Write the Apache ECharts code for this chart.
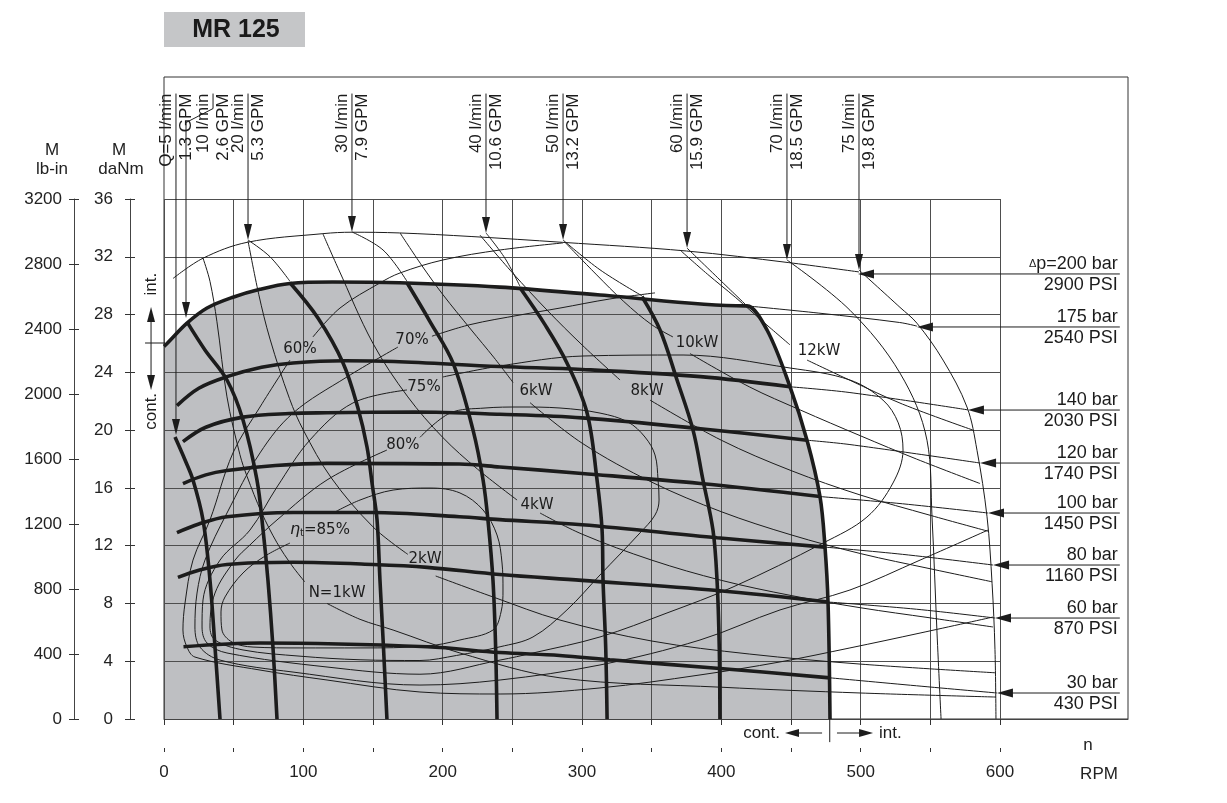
<!DOCTYPE html>
<html><head><meta charset="utf-8">
<script src="https://cdn.jsdelivr.net/npm/echarts@6/dist/echarts.min.js"></script>
<style>html,body{margin:0;padding:0;background:#fff}#c{width:1227px;height:803px}</style>
</head><body><div id="c"></div>
<script>
// ================= DATA (rpm, torque daNm) =================
const rpmTicks  = [0,50,100,150,200,250,300,350,400,450,500,550,600];
const rpmLabels = [0,100,200,300,400,500,600];

// pressure lines
const p200      = [[6.5,30.5],[28,31.9],[59.6,33.0],[114,33.6],[135,33.7],[169,33.65],[221,33.4],[286,33.0],[375,32.4],[448,31.6],[498.8,30.95]];
const p175cont  = [[0,25.8],[2.2,26.0],[16.5,27.4],[30.9,28.45],[49.5,29.2],[68.9,29.75],[90.4,30.15],[121,30.25],[169,30.2],[241,29.9],[313,29.35],[417,28.6]];
const q60cont   = [[418.4,28.6],[432.8,26.93],[449.3,23.0],[461.5,19.3],[470.8,15.4],[474.4,11.9],[476.6,8.0],[478,0]];
const p175thin  = [[418.4,28.6],[470,28.1],[528,27.45],[540.4,27.2]];
const p140      = [[9.3,21.7],[25,22.9],[45.2,23.7],[70,24.35],[92.6,24.65],[130,24.8],[165,24.75],[241,24.4],[300,24.2],[385,23.7],[449.3,23.0]];
const p140thin  = [[449.3,23.0],[492.3,22.6],[577,21.4]];
const p120      = [[13.6,19.2],[30,20.2],[56.7,20.9],[90,21.15],[117,21.2],[180,21.25],[241,21.1],[300,20.85],[385,20.1],[461.5,19.3]];
const p120thin  = [[461.5,19.3],[492.3,19.0],[585.7,17.72]];
const p100      = [[13.6,16.3],[30,16.9],[45.2,17.2],[80,17.55],[117,17.7],[212,17.65],[241,17.45],[300,17.0],[385,16.3],[470.8,15.4]];
const p100thin  = [[470.8,15.4],[530,14.9],[591.4,14.26]];
const p80       = [[9.3,12.9],[25,13.5],[45.2,14.0],[92.6,14.3],[150,14.3],[212,14.0],[241,13.8],[300,13.45],[397,12.55],[474.4,11.9]];
const p80thin   = [[474.4,11.9],[530,11.4],[595,10.66]];
const p60       = [[10,9.8],[25,10.3],[45.2,10.7],[92.6,10.85],[150,10.7],[189,10.5],[241,10.0],[300,9.6],[397,8.9],[476.6,8.1]];
const p60thin   = [[476.6,8.1],[540,7.6],[596.4,6.99]];
const p30       = [[14,5.0],[69,5.26],[189,5.0],[241,4.6],[284,4.4],[320,4.1],[399,3.5],[478,2.85]];
const p30thin   = [[478,2.85],[540,2.3],[597.8,1.8]];

// flow lines
const q5        = [[7.9,19.52],[15.1,17.93],[20.8,16.55],[28,13.78],[33,9.62],[36.6,4.98],[40.2,0]];
const q10       = [[16.5,27.49],[29.4,25.55],[45.2,23.47],[56.7,20.7],[66.7,16.55],[71.1,13.08],[74.6,9.62],[78.2,4.98],[81.1,0]];
const q20thin   = [[60.3,33.16],[76.1,32.0],[90.4,30.3]];
const q20       = [[90.4,30.2],[110.5,27.76],[128.5,24.65],[139,21.6],[145.7,18.83],[149.5,16.2],[152.9,13.78],[155,9.62],[157.5,5],[160,0]];
const q30thin   = [[134.9,33.72],[157.2,32.47],[174.4,30.3]];
const q30       = [[174.4,30.2],[191,27.5],[207.4,24.65],[221.8,20.0],[229,16.55],[232.5,13.78],[236.1,9.62],[238,5],[239,0]];
const q40thin   = [[231.1,33.65],[244.7,31.9],[255.5,29.95]];
const q40       = [[255.5,29.85],[273.4,27.3],[289.2,24.65],[303.6,21.2],[310.8,16.55],[314.4,13.1],[315.1,9.6],[317,5],[318,0]];
const q50thin   = [[286.4,33.16],[312.9,31.1],[343,29.3]];
const q50       = [[343,29.25],[356,26.93],[368.2,23.47],[379.7,20.0],[386.8,16.55],[394,13.08],[396.9,9.62],[398.5,5],[399,0]];
const q60thin   = [[375.4,32.6],[399,30.4],[418.4,28.6]];
const q70       = [[447.1,31.78],[492.3,28.3],[528.2,23.95],[547.6,19.3],[551.2,14.0],[554.8,5.95],[557.7,0]];
const q75       = [[498.8,31.08],[528.2,28.5],[540.4,27.4],[559.1,24.85],[576.3,21.6],[583.5,18.6],[590.7,14.0],[594.3,9.4],[596.4,4.8],[597.1,0]];

// efficiency contours
const eff85  = [[122.7,14.33],[140.7,15.16],[164.4,15.85],[190.9,15.99],[212.4,15.65],[229,14.47],[239,12.74],[242.6,10.8],[243.3,8.93],[241.9,7.41],[236.1,6.16],[212.4,5.47],[188.8,5.05],[140.7,4.92],[97.6,4.92],[63.9,4.98],[48.8,5.33],[41.6,6.16],[40.9,7.41],[43.8,8.45],[56.7,10.11],[72.5,11.28],[90.4,12.18]];
const eff80  = [[183.7,19.5],[205.3,21.18],[230.4,21.53],[255.5,21.6],[284.2,21.53],[312.9,21.18],[333,20.56],[345.2,19.52],[352.4,18.28],[354.6,16.55],[355.3,15.16],[352.4,14.12],[341.6,12.88],[312.9,9.97],[289.2,7.55],[264.8,5.68],[241.2,5.0],[210,4.4],[183.7,4.05],[140.7,4.1],[97.6,4.35],[56.7,4.78],[36.6,5.47],[33,6.37],[36.6,8.72],[51,11.0],[61.7,12.05],[81.1,13.78],[117,16.55],[160,18.62]];
const eff75  = [[200.2,23.68],[241.2,24.44],[300.7,25.13],[372.5,25.2],[449.3,24.3],[492.3,23.47],[516,22.08],[527,20.5],[530.4,18.62],[523.2,16.34],[504.5,13.98],[473,12.18],[408.4,9.14],[361,7.34],[312.9,5.68],[264.8,4.57],[241.2,4.08],[183.7,3.1],[117,3.6],[45.2,4.57],[30.9,5.26],[27.3,6.37],[28,8.24],[40.2,11.0],[61.7,13.08],[81.1,16.06],[104.8,19.32],[135.6,21.88],[174.4,22.78]];
const eff70a = [[192.3,26.5],[219.6,27.3],[255.5,27.97],[284.2,28.45],[320,29.08],[352.4,29.5]];
const eff70b = [[167.9,25.75],[131.3,23.68],[92.6,21.18],[68.9,18.42],[45.2,14.26],[29.4,11.0],[23.7,8.72],[22.2,6.37],[25.8,4.98],[40.2,4.08],[92.6,3.25],[183.7,2.35],[241.2,2.7],[312.9,3.74],[384.7,5.47],[442.1,7.55],[492.3,8.93],[542.6,11.0],[591.4,13.08]];
const eff60a = [[106.9,26.45],[126.3,28.45],[155,30.19],[169.4,30.88],[200.2,31.78],[241.2,32.47],[286.4,32.96]];
const eff60b = [[90.4,24.85],[68.9,21.6],[49.5,18.42],[33,13.78],[20.8,11.0],[15.1,8.03],[13.6,6.16],[16.5,4.98],[22.2,4.29],[68.9,3.39],[117,2.7],[183.7,1.87],[241.2,1.73],[312.9,2.15],[384.7,3.05],[442.1,3.95],[492.3,4.92],[542.6,5.95],[595,7.06]];

// constant power lines (split at their labels)
const pw1a  = [[28,31.9],[33,30.3],[38,27.5],[45.2,22.3],[54.5,18.3],[59.6,16.8],[70,14.3],[81.1,12.2],[92,10.6],[101,9.5]];
const pw1b  = [[117,8.0],[140.7,6.9],[164.4,6.16],[212.4,4.57],[284.2,2.85],[400,2.2],[500,1.8],[597.1,1.52]];
const pw2a  = [[60.3,33.1],[68,29.4],[76.1,26.3],[90,22.2],[100,20.0],[120,16.7],[150,13.3],[175,11.4]];
const pw2b  = [[195,9.9],[236.1,8.45],[284.2,6.85],[350,5.4],[420,4.5],[500,3.8],[596.4,3.2]];
const pw4a  = [[114,33.6],[125,31.2],[150,26.0],[175,22.3],[200,19.5],[225,17.3],[253.4,15.16]];
const pw4b  = [[269.9,14.26],[300,12.8],[350,11.0],[400,9.6],[450,8.55],[500,7.7],[550,7.0],[595,6.37]];
const pw6a  = [[169.4,33.65],[185,31.4],[200,29.4],[220,27.0],[237,25.0],[250.5,23.3]];
const pw6b  = [[262.7,21.9],[300,19.1],[350,16.4],[400,14.35],[450,12.75],[500,11.45],[550,10.4],[594.3,9.5]];
const pw8a  = [[226.8,33.5],[250,30.9],[275,28.3],[300,25.9],[327.3,23.47]];
const pw8b  = [[348.8,22.08],[400,19.3],[450,17.2],[500,15.5],[550,14.1],[591.4,13.0]];
const pw10a = [[287.8,33.0],[310,30.8],[330,28.9],[350,27.3],[365.3,26.45]];
const pw10b = [[377.5,25.3],[420,23.0],[456.5,21.4],[500,19.6],[540,18.0],[585.7,16.3]];
const pw12a = [[370.3,32.47],[390,30.8],[410,29.2],[430,27.5],[449.3,25.9]];
const pw12b = [[461.5,24.85],[492.3,23.45],[530,21.8],[580.6,20.0]];

// labels [text, rpm, torque]
const effLabels   = [['60%',97.6,25.6],['70%',178,26.24],['75%',186.6,22.99],['80%',171.5,18.97]];
const powerLabels = [['N=1kW',124.2,8.72],['2kW',187.3,11.08],['4kW',267.7,14.82],['6kW',267,22.7],['8kW',346.7,22.7],['10kW',382.5,26.03],['12kW',470.1,25.48]];
const eta85Label  = [111.9,13.08];

// flow arrows
const flowL        = ['Q=5 l/min','10 l/min','20 l/min','30 l/min','40 l/min','50 l/min','60 l/min','70 l/min','75 l/min'];
const flowG        = ['1.3 GPM','2.6 GPM','5.3 GPM','7.9 GPM','10.6 GPM','13.2 GPM','15.9 GPM','18.5 GPM','19.8 GPM'];
const flowLabelRpm = [8.6,35.2,60.3,134.9,231.1,286.4,375.4,447.1,498.8];
const flowTipRpm   = [8.6,15.8,60.3,134.9,231.1,286.4,375.4,447.1,498.8];
const flowTipT     = [19.66,27.76,33.16,33.72,33.65,33.16,32.6,31.78,31.08];

// pressure arrows
const pressBar    = ['200 bar','175 bar','140 bar','120 bar','100 bar','80 bar','60 bar','30 bar'];
const pressPsi    = ['2900 PSI','2540 PSI','2030 PSI','1740 PSI','1450 PSI','1160 PSI','870 PSI','430 PSI'];
const pressTipRpm = [498.1,540.4,577,585.7,591.4,595,596.4,597.8];
const pressTipT   = [30.81,27.14,21.39,17.72,14.26,10.66,6.99,1.80];

// ================= STYLE =================
const INK='#1c1c1c', GRIDC='#4e4e4e', FILL='#bebfc2';
const FONT='Liberation Sans, Arial, sans-serif', TFONT='DejaVu Sans, sans-serif';
const TOP_T = 43.3, LEADER_END = 686;

function ln(data,w,z){return {type:'line',data:data,smooth:0.35,symbol:'none',showSymbol:false,silent:true,animation:false,
  lineStyle:{color:INK,width:w},z:z,xAxisIndex:0,yAxisIndex:0};}

const contLimit = p175cont.concat(q60cont);
const series = [];
series.push({type:'line',data:contLimit,smooth:0.35,symbol:'none',showSymbol:false,silent:true,animation:false,
  lineStyle:{width:0,opacity:0},areaStyle:{color:FILL,opacity:1},z:1});
[p200,p175thin,p140thin,p120thin,p100thin,p80thin,p60thin,p30thin,
 q20thin,q30thin,q40thin,q50thin,q60thin,q70,q75,
 eff85,eff80,eff75,eff70a,eff70b,eff60a,eff60b,
 pw1a,pw1b,pw2a,pw2b,pw4a,pw4b,pw6a,pw6b,pw8a,pw8b,pw10a,pw10b,pw12a,pw12b].forEach(d=>series.push(ln(d,1,5)));
[contLimit,p140,p120,p100,p80,p60,p30,q5,q10,q20,q30,q40,q50].forEach(d=>series.push(ln(d,3.6,6)));

function renderAnno(params, api){
  const ch=[];
  const P=(x,y)=>api.coord([x,y]);
  const pl=(pts)=>ch.push({type:'polyline',shape:{points:pts},style:{stroke:INK,lineWidth:1,fill:'none'}});
  const tri=(pts)=>ch.push({type:'polygon',shape:{points:pts},style:{fill:INK,stroke:'none'}});
  const tx=(x,y,text,st,rot)=>ch.push({type:'text',x:x,y:y,rotation:rot||0,
     style:Object.assign({text:text,fill:INK,fontSize:17,fontFamily:FONT,align:'center',verticalAlign:'middle',textAlign:'center',textVerticalAlign:'middle'},st||{})});
  // flow arrows
  for(let i=0;i<flowL.length;i++){
    const top=P(flowLabelRpm[i],TOP_T), tip=P(flowTipRpm[i],flowTipT[i]);
    const pts=[top];
    if(flowLabelRpm[i]!==flowTipRpm[i]){pts.push([top[0],top[1]+15]);pts.push([tip[0],top[1]+29]);}
    pts.push([tip[0],tip[1]-12]);
    pl(pts);
    tri([[tip[0],tip[1]],[tip[0]-4,tip[1]-16],[tip[0]+4,tip[1]-16]]);
    tx(top[0]-10,top[1],flowL[i],{align:'right',textAlign:'right'},Math.PI/2);
    tx(top[0]+10,top[1],flowG[i],{align:'right',textAlign:'right'},Math.PI/2);
  }
  // pressure arrows
  for(let i=0;i<pressBar.length;i++){
    const tip=P(pressTipRpm[i],pressTipT[i]), end=P(LEADER_END,pressTipT[i]);
    pl([[tip[0]+10,tip[1]],[end[0],end[1]]]);
    tri([[tip[0],tip[1]],[tip[0]+16,tip[1]-4.5],[tip[0]+16,tip[1]+4.5]]);
    const barTxt = i===0 ? '{d|\u0394}p=200 bar' : pressBar[i];
    tx(end[0]-2,tip[1]-10,barTxt,{align:'right',textAlign:'right',fontSize:18,rich:{d:{fontSize:11,fontFamily:FONT,fill:INK}}});
    tx(end[0]-2,tip[1]+11,pressPsi[i],{align:'right',textAlign:'right',fontSize:18});
  }
  // curve labels
  effLabels.concat(powerLabels).forEach(l=>{const p=P(l[1],l[2]);tx(p[0],p[1],l[0],{fontFamily:TFONT,fontSize:15});});
  const e=P(eta85Label[0],eta85Label[1]);
  tx(e[0],e[1],'{a|\u03b7}{b|t}=85%',{fontFamily:TFONT,fontSize:15,rich:{a:{fontSize:16,fontFamily:TFONT,fill:INK,fontStyle:'italic'},b:{fontSize:10,fontFamily:TFONT,fill:INK,padding:[7,0,0,0]}}});
  // left cont./int. marker
  const a1=P(-9.3,28.52), a2=P(-9.3,22.78), h1=P(-13.6,26.03), h2=P(0.7,26.03);
  pl([[a1[0],a1[1]+12],[a2[0],a2[1]-12]]);
  tri([[a1[0],a1[1]],[a1[0]-4,a1[1]+15],[a1[0]+4,a1[1]+15]]);
  tri([[a2[0],a2[1]],[a2[0]-4,a2[1]-15],[a2[0]+4,a2[1]-15]]);
  pl([h1,h2]);
  const ti=P(-9.3,30.1), tc=P(-9.3,21.3);
  tx(ti[0],ti[1],'int.',{},Math.PI/2);
  tx(tc[0],tc[1],'cont.',{},Math.PI/2);
  // bottom cont./int. marker
  const v1=P(477.8,0), v2=P(477.8,-1.6);
  pl([v1,v2]);
  const l1=P(472.3,-0.97), l2=P(445.7,-0.97), r1=P(483,-0.97), r2=P(508.9,-0.97);
  pl([l1,[l2[0]+10,l2[1]]]); tri([[l2[0],l2[1]],[l2[0]+14,l2[1]-4],[l2[0]+14,l2[1]+4]]);
  pl([r1,[r2[0]-10,r2[1]]]); tri([[r2[0],r2[1]],[r2[0]-14,r2[1]-4],[r2[0]-14,r2[1]+4]]);
  const ct=P(442.1,-0.97), it=P(513.2,-0.97);
  tx(ct[0],ct[1],'cont.',{align:'right',textAlign:'right'});
  tx(it[0],it[1],'int.',{align:'left',textAlign:'left'});
  return {type:'group',children:ch};
}
series.push({type:'custom',coordinateSystem:'cartesian2d',xAxisIndex:0,yAxisIndex:0,data:[[0,0]],
  renderItem:renderAnno,clip:false,silent:true,z:8,animation:false});

const axLbl={color:'#222',fontSize:17,fontFamily:FONT,formatter:v=>String(v)};
const option={
  animation:false,
  grid:[
    {left:164,top:199,width:836,height:520,show:false},
    {left:164,top:77,width:964,height:642,show:true,borderColor:'#333',borderWidth:1,backgroundColor:'transparent'}
  ],
  xAxis:[
    {gridIndex:0,type:'value',min:0,max:600,interval:50,z:2,axisLine:{show:false},axisTick:{show:false},axisLabel:{show:false},
      splitLine:{show:true,lineStyle:{color:GRIDC,width:1}}},
    {gridIndex:1,type:'value',min:0,max:691.87,position:'bottom',offset:33,z:3,
      axisLine:{show:true,lineStyle:{color:'#444',width:1}},
      axisTick:{show:true,customValues:rpmTicks,length:6,lineStyle:{color:'#333'}},
      axisLabel:{show:true,customValues:rpmLabels,margin:12,...axLbl},splitLine:{show:false}},
    {gridIndex:1,type:'value',min:0,max:691.87,position:'bottom',offset:33,z:3,
      axisLine:{show:false},axisTick:{show:true,inside:true,customValues:rpmTicks,length:4,lineStyle:{color:'#333'}},
      axisLabel:{show:false},splitLine:{show:false}}
  ],
  yAxis:[
    {gridIndex:0,type:'value',min:0,max:36,interval:4,z:2,axisLine:{show:false},axisTick:{show:false},axisLabel:{show:false},
      splitLine:{show:true,lineStyle:{color:GRIDC,width:1}}},
    {gridIndex:0,type:'value',min:0,max:36,interval:4,position:'left',offset:34,z:3,
      axisLine:{show:true,lineStyle:{color:'#444'}},axisTick:{show:true,length:5,lineStyle:{color:'#333'}},
      axisLabel:{margin:17,...axLbl},splitLine:{show:false}},
    {gridIndex:0,type:'value',min:0,max:36,interval:4,position:'left',offset:34,z:3,
      axisLine:{show:false},axisTick:{show:true,inside:true,length:5,lineStyle:{color:'#333'}},axisLabel:{show:false},splitLine:{show:false}},
    {gridIndex:0,type:'value',min:0,max:3200,interval:400,position:'left',offset:90,z:3,
      axisLine:{show:true,lineStyle:{color:'#444'}},axisTick:{show:true,length:5,lineStyle:{color:'#333'}},
      axisLabel:{margin:12,...axLbl},splitLine:{show:false}},
    {gridIndex:0,type:'value',min:0,max:3200,interval:400,position:'left',offset:90,z:3,
      axisLine:{show:false},axisTick:{show:true,inside:true,length:5,lineStyle:{color:'#333'}},axisLabel:{show:false},splitLine:{show:false}},
    {gridIndex:1,type:'value',min:0,max:1,show:false}
  ],
  graphic:[
    {type:'rect',shape:{x:164,y:12,width:141,height:35},style:{fill:'#c5c6c8'}},
    {type:'text',x:236,y:30,style:{text:'MR 125',fontSize:25,fontWeight:'bold',fontFamily:FONT,fill:'#1a1a1a',align:'center',verticalAlign:'middle',textAlign:'center',textVerticalAlign:'middle'}},
    {type:'text',x:52,y:150,style:{text:'M',fontSize:17,fontFamily:FONT,fill:'#222',align:'center',verticalAlign:'middle',textAlign:'center',textVerticalAlign:'middle'}},
    {type:'text',x:52,y:169,style:{text:'lb-in',fontSize:17,fontFamily:FONT,fill:'#222',align:'center',verticalAlign:'middle',textAlign:'center',textVerticalAlign:'middle'}},
    {type:'text',x:119,y:150,style:{text:'M',fontSize:17,fontFamily:FONT,fill:'#222',align:'center',verticalAlign:'middle',textAlign:'center',textVerticalAlign:'middle'}},
    {type:'text',x:121,y:169,style:{text:'daNm',fontSize:17,fontFamily:FONT,fill:'#222',align:'center',verticalAlign:'middle',textAlign:'center',textVerticalAlign:'middle'}},
    {type:'text',x:1088,y:745,style:{text:'n',fontSize:17,fontFamily:FONT,fill:'#222',align:'center',verticalAlign:'middle',textAlign:'center',textVerticalAlign:'middle'}},
    {type:'text',x:1099,y:774,style:{text:'RPM',fontSize:17,fontFamily:FONT,fill:'#222',align:'center',verticalAlign:'middle',textAlign:'center',textVerticalAlign:'middle'}}
  ],
  series:series
};
const chart=echarts.init(document.getElementById('c'));
chart.setOption(option);
</script></body></html>
